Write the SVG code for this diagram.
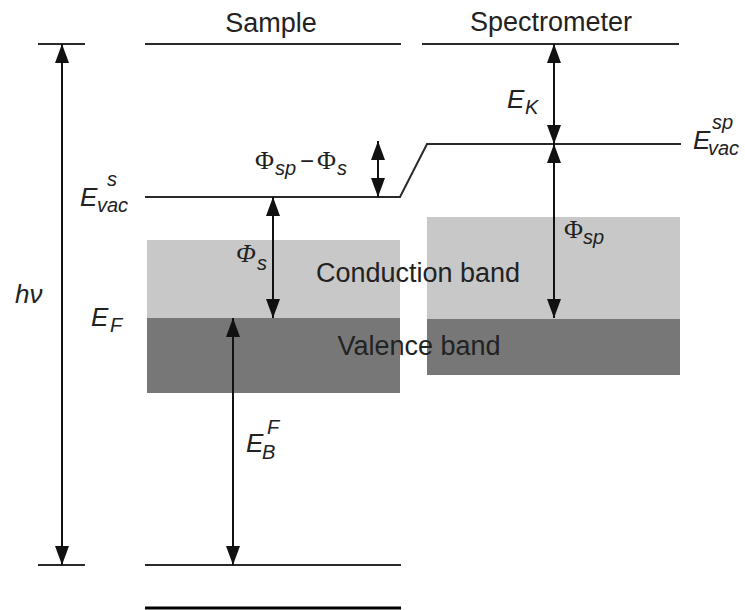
<svg xmlns="http://www.w3.org/2000/svg" width="745" height="610" viewBox="0 0 745 610">
<style>
.ln{stroke:#2a2a2a;stroke-width:2;fill:none}
.ar{stroke:#111;stroke-width:2;fill:none;marker-start:url(#ah);marker-end:url(#ah)}
.t{font-family:"Liberation Sans",Arial,sans-serif;fill:#222}
.hd{font-size:27px}
.e{font-family:"Liberation Sans",Arial,sans-serif;font-style:italic;fill:#222;font-size:26px}
.s{font-family:"Liberation Sans",Arial,sans-serif;font-style:italic;fill:#222;font-size:20px}
.ph{font-family:"Liberation Serif","Times New Roman",serif;fill:#222;font-size:26px}
.cb{fill:#c8c8c8}
.vb{fill:#777777}
</style>
<defs>
<marker id="ah" viewBox="0 0 19 14" refX="19" refY="7" markerWidth="19" markerHeight="14" markerUnits="userSpaceOnUse" orient="auto-start-reverse">
<path d="M0,0 L19,7 L0,14 Z" fill="#111"/>
</marker>
</defs>
<rect width="745" height="610" fill="#fff"/>
<g id="sample-conduction-band"><rect class="cb" x="147" y="240" width="253" height="78"/></g>
<g id="sample-valence-band"><rect class="vb" x="147" y="318" width="253" height="75"/></g>
<g id="spectrometer-conduction-band"><rect class="cb" x="427" y="217" width="253" height="102"/></g>
<g id="spectrometer-valence-band"><rect class="vb" x="427" y="319" width="253" height="56"/></g>
<g id="levels">
<line class="ln" x1="38" y1="44" x2="85" y2="44"/>
<line class="ln" x1="38" y1="565" x2="85" y2="565"/>
<line class="ln" x1="145" y1="44" x2="401" y2="44"/>
<line class="ln" x1="422" y1="44" x2="679" y2="44"/>
<path class="ln" d="M145,197 L400,197 L427,144 L681,144"/>
<line class="ln" x1="145" y1="565" x2="401" y2="565"/>
<line x1="145" y1="608" x2="401" y2="608" stroke="#000" stroke-width="3"/>
</g>
<g id="connectors">
<line class="ar" x1="62" y1="44" x2="62" y2="565"/>
<line class="ar" x1="554" y1="44" x2="554" y2="144"/>
<line class="ar" x1="554" y1="144" x2="554" y2="318"/>
<line class="ar" x1="378" y1="141" x2="378" y2="197"/>
<line class="ar" x1="273" y1="197" x2="273" y2="318"/>
<line class="ar" x1="233" y1="318" x2="233" y2="565"/>
</g>
<g id="labels">
<text class="t hd" x="271" y="32" text-anchor="middle">Sample</text>
<text class="t hd" x="551" y="31" text-anchor="middle">Spectrometer</text>
<text class="t hd" x="418" y="282" text-anchor="middle">Conduction band</text>
<text class="t hd" x="419" y="355" text-anchor="middle">Valence band</text>
<text class="e" x="15" y="303">hν</text>
<g id="label-evac-s"><text class="e" x="80" y="206">E</text><text class="s" x="107" y="186">s</text><text class="s" x="97" y="212">vac</text></g>
<g id="label-ef"><text class="e" x="91" y="326">E</text><text class="s" x="110" y="332">F</text></g>
<g id="label-phis"><text class="ph" x="236" y="262" font-style="italic">Φ</text><text class="s" x="257" y="270">s</text></g>
<g id="label-dphi"><text class="ph" x="255" y="169">Φ</text><text class="s" x="275" y="175">sp</text><text class="t" x="300" y="169" font-size="24">−</text><text class="ph" x="317" y="169">Φ</text><text class="s" x="337" y="175">s</text></g>
<g id="label-ek"><text class="e" x="507" y="108">E</text><text class="s" x="525" y="114">K</text></g>
<g id="label-phisp"><text class="ph" x="564" y="238">Φ</text><text class="s" x="583" y="244">sp</text></g>
<g id="label-evac-sp"><text class="e" x="693" y="149">E</text><text class="s" x="712" y="129">sp</text><text class="s" x="708" y="155">vac</text></g>
<g id="label-ebf"><text class="e" x="246" y="452">E</text><text class="s" x="267" y="434">F</text><text class="s" x="262" y="459">B</text></g>
</g>
</svg>
